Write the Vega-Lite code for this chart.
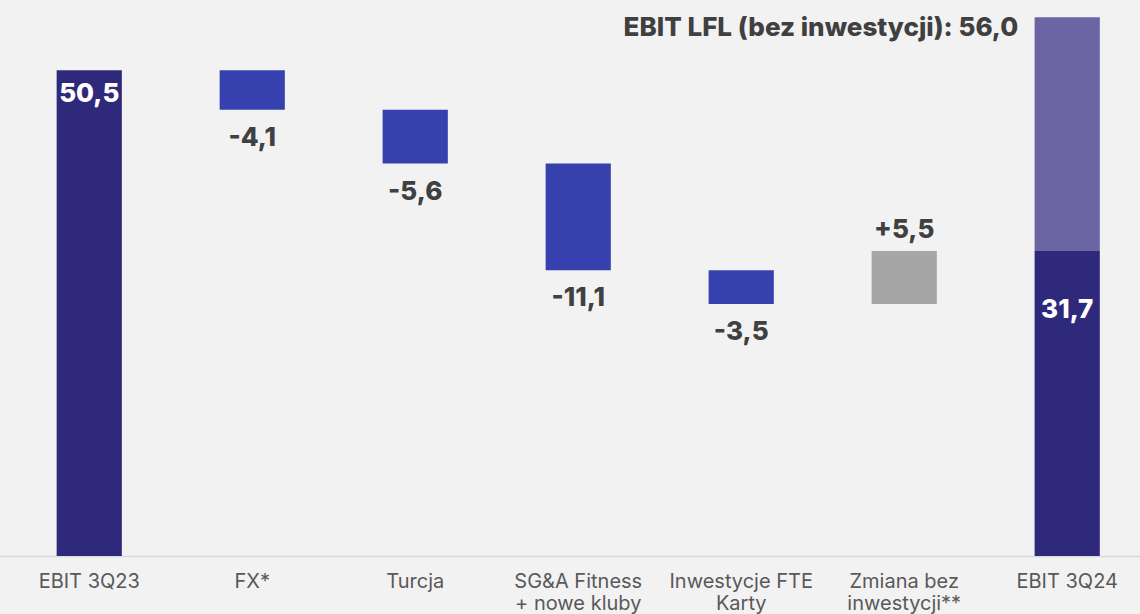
{
  "$schema": "https://vega.github.io/schema/vega-lite/v6.json",
  "width": 1140,
  "height": 556,
  "autosize": {"type": "none"},
  "padding": {"left": 0, "top": 0, "right": 0, "bottom": 58},
  "background": "#f2f2f2",
  "config": {"view": {"stroke": null}, "font": "Inter"},
  "data": {
    "values": [
      {"category": "EBIT 3Q23", "start": 0, "end": 50.5, "type": "total", "label": "50,5"},
      {"category": "FX*", "start": 50.5, "end": 46.4, "type": "neg", "label": "-4,1"},
      {"category": "Turcja", "start": 46.4, "end": 40.8, "type": "neg", "label": "-5,6"},
      {"category": "SG&A Fitness|+ nowe kluby", "start": 40.8, "end": 29.7, "type": "neg", "label": "-11,1"},
      {"category": "Inwestycje FTE|Karty", "start": 29.7, "end": 26.2, "type": "neg", "label": "-3,5"},
      {"category": "Zmiana bez|inwestycji**", "start": 26.2, "end": 31.7, "type": "pos", "label": "+5,5"},
      {"category": "EBIT 3Q24", "start": 0, "end": 31.7, "type": "total2", "label": "31,7"},
      {"category": "EBIT 3Q24", "start": 31.7, "end": 56.0, "type": "lfl", "label": "EBIT LFL (bez inwestycji): 56,0"}
    ]
  },
  "encoding": {
    "x": {
      "field": "category",
      "type": "nominal",
      "sort": null,
      "scale": {"paddingInner": 0.6, "paddingOuter": 0.297, "align": 0.585},
      "axis": {
        "title": null,
        "labelAngle": 0,
        "labelExpr": "split(datum.label, '|')",
        "labelFontSize": 20,
        "labelColor": "#595959",
        "labelFont": "Inter",
        "labelPadding": 15,
        "labelLineHeight": 22,
        "labelBaseline": "top",
        "labelLimit": 300,
        "labelOverlap": false,
        "ticks": false,
        "domainColor": "#d9d9d9",
        "domainWidth": 1.5
      }
    }
  },
  "layer": [
    {
      "mark": {"type": "bar"},
      "encoding": {
        "y": {"field": "start", "type": "quantitative", "scale": {"domain": [0, 57.8], "nice": false}, "axis": null},
        "y2": {"field": "end"},
        "color": {
          "field": "type",
          "type": "nominal",
          "scale": {"domain": ["total", "neg", "pos", "total2", "lfl"], "range": ["#2e297b", "#3741ad", "#a6a6a6", "#2e297b", "#6b65a3"]},
          "legend": null
        }
      }
    },
    {
      "transform": [{"filter": "datum.type == 'neg'"}],
      "mark": {"type": "text", "baseline": "middle", "dy": 28, "fontSize": 26, "fontWeight": 800, "color": "#404040"},
      "encoding": {"y": {"field": "end", "type": "quantitative"}, "text": {"field": "label"}}
    },
    {
      "transform": [{"filter": "datum.type == 'pos'"}],
      "mark": {"type": "text", "baseline": "middle", "dy": -21, "fontSize": 26, "fontWeight": 800, "color": "#404040"},
      "encoding": {"y": {"field": "end", "type": "quantitative"}, "text": {"field": "label"}}
    },
    {
      "transform": [{"filter": "datum.type == 'total'"}],
      "mark": {"type": "text", "baseline": "middle", "dy": 24, "fontSize": 26, "fontWeight": 800, "color": "#ffffff"},
      "encoding": {"y": {"field": "end", "type": "quantitative"}, "text": {"field": "label"}}
    },
    {
      "transform": [{"filter": "datum.type == 'total2'"}],
      "mark": {"type": "text", "baseline": "middle", "dy": 59, "fontSize": 26, "fontWeight": 800, "color": "#ffffff"},
      "encoding": {"y": {"field": "end", "type": "quantitative"}, "text": {"field": "label"}}
    },
    {
      "transform": [{"filter": "datum.type == 'lfl'"}],
      "mark": {"type": "text", "baseline": "middle", "align": "right", "dx": -49, "dy": 11, "fontSize": 26, "fontWeight": 800, "color": "#404040"},
      "encoding": {"y": {"field": "end", "type": "quantitative"}, "text": {"field": "label"}}
    }
  ]
}
